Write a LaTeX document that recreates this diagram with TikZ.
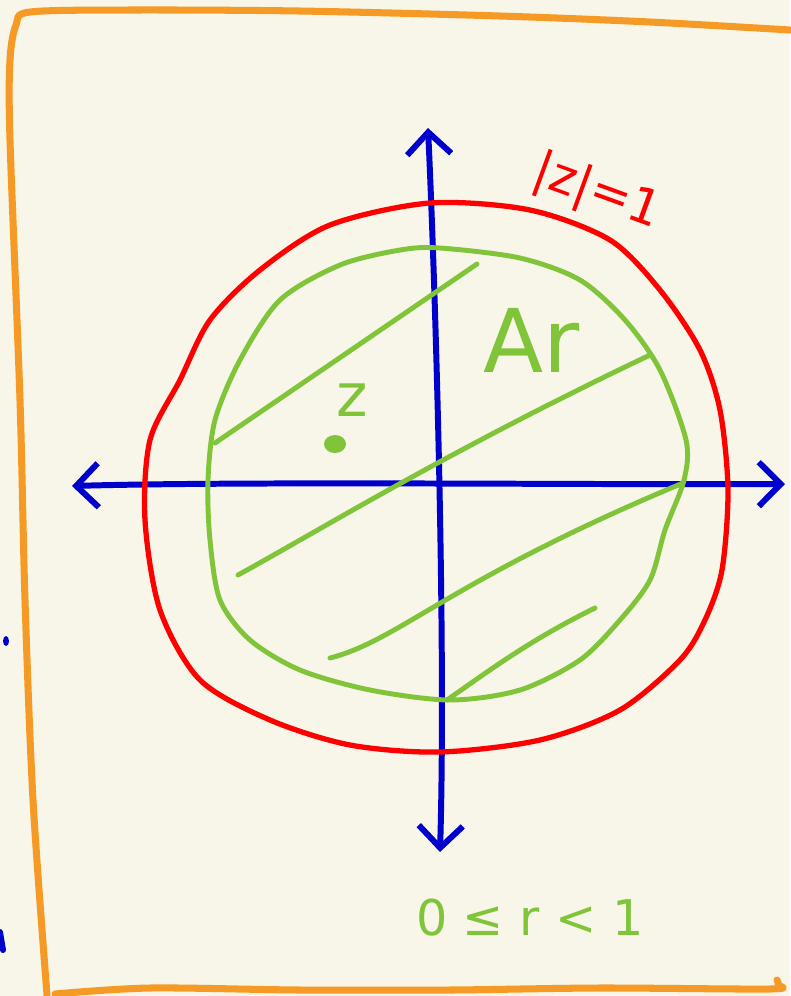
\documentclass[tikz,border=0pt]{standalone}
\usepackage{fontspec}
\setmainfont{DejaVu Sans}
\usetikzlibrary{arrows.meta}
\definecolor{paper}{RGB}{248,245,233}
\definecolor{frameorange}{RGB}{245,155,37}
\definecolor{axisblue}{RGB}{0,0,204}
\definecolor{unitred}{RGB}{255,0,0}
\definecolor{diskgreen}{RGB}{128,196,58}
\tikzset{
  frame/.style={frameorange, line width=2pt},
  axis/.style={axisblue, line width=1.7pt, <->},
  unitcircle/.style={unitred, line width=1.5pt},
  disk/.style={diskgreen, line width=1.4pt},
  greenlabel/.style={text=diskgreen, inner sep=0pt}
}

\begin{document}
\begin{tikzpicture}[x=0.01cm, y=-0.01cm, >={Straight Barb[length=2.2mm,width=4.4mm]}, line cap=round, line join=round]
    \fill[paper] (0,0) rectangle (790,996);
    \useasboundingbox (0,0) rectangle (790,996);
    % frame
    \draw[frame] plot[smooth] coordinates {(790,30) (650,22) (500,16) (300,11) (130,10) (30,12) (16,25) (10,60) (10,140) (20,400) (25,600) (33,800) (47,995)};
    \draw[frame] plot[smooth] coordinates {(55,994) (150,988) (300,990) (450,990) (600,988) (770,989) (778,985) (777,980)};
    \fill[axisblue] (6,641) ellipse (3 and 5);
    \draw[axisblue, line width=1.7pt] (0,932) -- (3,950);
    % axes
    \coordinate (west) at (72,486);
    \coordinate (east) at (785,484);
    \coordinate (north) at (428,128);
    \coordinate (south) at (440,852);
    \draw[axis] (west) .. controls (250,481) and (600,485) .. (east);
    \draw[axis] (south) .. controls (446,650) and (436,300) .. (north);
    % circles
    \draw[unitcircle] plot[smooth cycle] coordinates {(430,203) (530,210) (610,240) (660,290) (700,350) (720,410) (728,490) (722,570) (705,620) (680,660) (620,710) (540,740) (440,752) (350,745) (270,720) (200,680) (160,610) (145,520) (150,440) (180,380) (210,320) (260,270) (330,225)};
    \draw[disk] plot[smooth cycle] coordinates {(440,248) (520,258) (580,280) (625,320) (660,370) (686,440) (684,480) (665,530) (650,580) (620,620) (580,660) (520,690) (450,700) (370,690) (300,670) (250,640) (220,600) (210,540) (208,480) (215,420) (240,360) (280,300) (340,265) (400,250)};
    % hatching
    \draw[disk] (215,443) -- (477,264);
    \draw[disk] (238,575) .. controls (320,530) and (450,450) .. (650,355);
    \draw[disk] (330,658) .. controls (400,640) and (450,580) .. (683,483);
    \draw[disk] (447,700) .. controls (490,670) and (530,640) .. (595,608);
    % labels
    \node[text=unitred, inner sep=0pt, rotate=-20, font=\fontsize{14}{16}\selectfont] (modlabel) at (597,193) {|z|=1};
    \node[greenlabel, font=\fontsize{25}{28}\selectfont] (arlabel) at (532,340) {Ar};
    \node[greenlabel, font=\fontsize{17}{20}\selectfont] (zlabel) at (352,400) {z};
    \fill[diskgreen] (335,444) ellipse (11 and 9);
    \node[greenlabel, font=\fontsize{14}{16}\selectfont] (rrange) at (530,918) {0 ≤ r < 1};
\end{tikzpicture}
\end{document}
